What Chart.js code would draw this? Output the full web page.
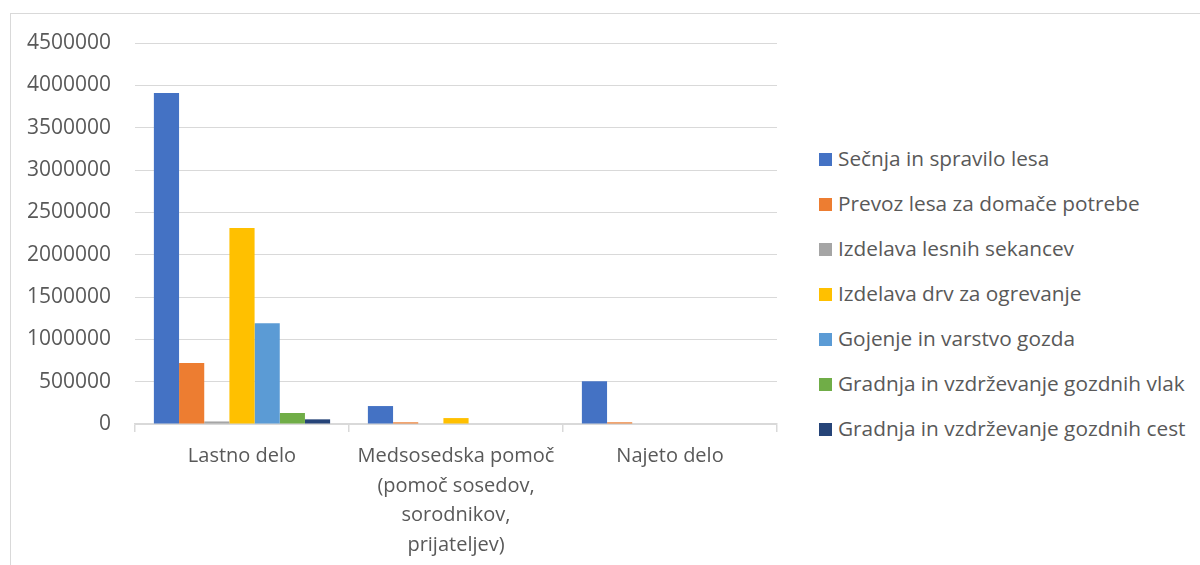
<!DOCTYPE html>
<html>
<head>
<meta charset="utf-8">
<script src="https://cdn.jsdelivr.net/npm/chart.js@4.4.0/dist/chart.umd.min.js"></script>
<style>
body{margin:0;background:#fff;font-family:"Open Sans",sans-serif;}
#okvir{position:absolute;left:10px;top:13px;width:1300px;height:700px;border:1px solid #d9d9d9;}
#graf{position:absolute;left:0;top:0;width:780px;height:565px;}
#legenda{position:absolute;left:819px;top:0;}
.leg{position:absolute;white-space:nowrap;font-size:20.8px;color:#595959;line-height:20px;}
.leg span{display:inline-block;width:13px;height:13px;margin-right:6px;vertical-align:0px;}
</style>
</head>
<body>
<div id="okvir"></div>
<div id="graf"><canvas id="myChart"></canvas></div>
<div id="legenda"></div>
<script>
//-------------datos-----------------//
const kategorije = ['Lastno delo', ['Medsosedska pomoč', '(pomoč sosedov,', 'sorodnikov,', 'prijateljev)'], 'Najeto delo'];
const serije = ['Sečnja in spravilo lesa', 'Prevoz lesa za domače potrebe', 'Izdelava lesnih sekancev', 'Izdelava drv za ogrevanje', 'Gojenje in varstvo gozda', 'Gradnja in vzdrževanje gozdnih vlak', 'Gradnja in vzdrževanje gozdnih cest'];
const secnja = [3910000, 212000, 505000];
const prevoz = [720000, 20000, 20000];
const sekanci = [30000, 0, 0];
const drva = [2315000, 70000, 0];
const gojenje = [1190000, 0, 0];
const vlake = [130000, 0, 0];
const ceste = [55000, 0, 0];
const barve = ['#4472C4', '#ED7D31', '#A5A5A5', '#FFC000', '#5B9BD5', '#70AD47', '#264478'];
const yMax = 4500000;
const yKorak = 500000;
//-----------------------------------//

const vrednosti = [secnja, prevoz, sekanci, drva, gojenje, vlake, ceste];

var datasets = [];
for (var i = 0; i < serije.length; i++) {
	datasets.push({
		label: serije[i],
		data: vrednosti[i],
		backgroundColor: barve[i],
		borderWidth: 0,
		categoryPercentage: 7 / 8.5,
		barPercentage: 1
	});
}

// legenda v html
var leg = document.getElementById('legenda');
for (var i = 0; i < serije.length; i++) {
	var d = document.createElement('div');
	d.className = 'leg';
	d.style.top = (148 + i * 45) + 'px';
	d.innerHTML = '<span style="background:' + barve[i] + '"></span>' + serije[i];
	leg.appendChild(d);
}

const ctx = document.getElementById('myChart').getContext('2d');
const myChart = new Chart(ctx, {
	type: 'bar',
	data: { labels: kategorije, datasets: datasets },
	options: {
		responsive: true,
		maintainAspectRatio: false,
		animation: false,
		layout: { padding: { left: 0, right: 3, top: 43, bottom: 0 } },
		plugins: { legend: { display: false }, tooltip: { enabled: false } },
		scales: {
			x: {
				grid: { display: true, drawOnChartArea: false, drawTicks: true, tickLength: 8, color: '#d9d9d9', lineWidth: 1.5 },
				border: { color: '#d9d9d9', width: 1.5 },
				ticks: { color: '#595959', font: { family: 'Open Sans', size: 20, lineHeight: 1.47 }, padding: 10, maxRotation: 0, autoSkip: false },
				afterFit: function (scale) { scale.height = 141; }
			},
			y: {
				min: 0,
				max: yMax,
				grid: { color: '#d9d9d9', lineWidth: 1, drawTicks: false },
				border: { display: false },
				ticks: {
					stepSize: yKorak, color: '#595959', font: { family: 'Open Sans', size: 21 }, padding: 24,
					callback: function (v) { return String(v); }
				},
				afterFit: function (scale) { scale.width = 135; }
			}
		}
	}
});
</script>
</body>
</html>
